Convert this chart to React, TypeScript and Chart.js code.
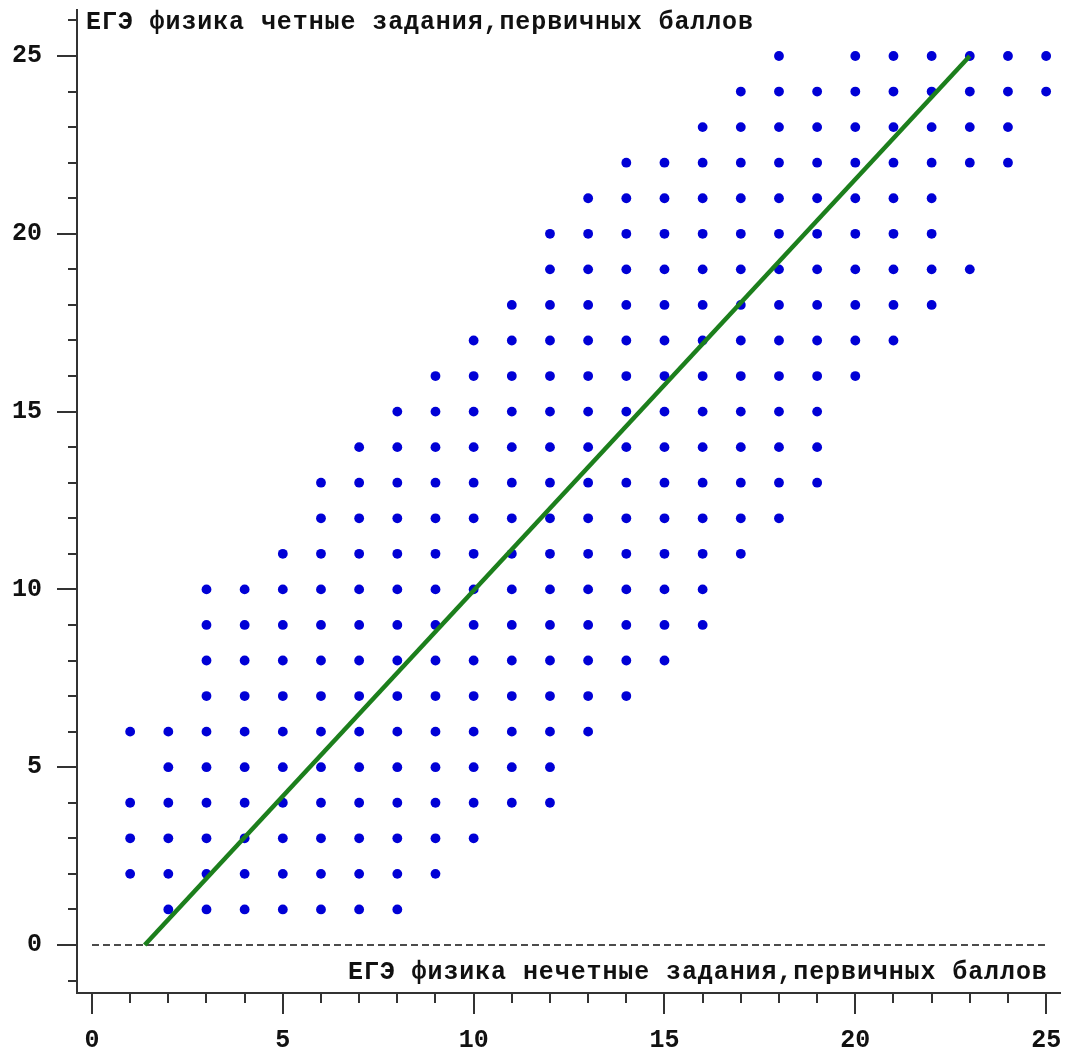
import { useEffect, useRef } from 'react';
import { Chart, registerables } from 'chart.js';

Chart.register(...registerables);

// y value of each row of points
const rowValues: number[] = [1, 2, 3, 4, 5, 6, 7, 8, 9, 10, 11, 12, 13, 14, 15, 16, 17, 18, 19, 20, 21, 22, 23, 24, 25];
// x values of the points present in each row
const rowXs: number[][] = [
  [2, 3, 4, 5, 6, 7, 8],
  [1, 2, 3, 4, 5, 6, 7, 8, 9],
  [1, 2, 3, 4, 5, 6, 7, 8, 9, 10],
  [1, 2, 3, 4, 5, 6, 7, 8, 9, 10, 11, 12],
  [2, 3, 4, 5, 6, 7, 8, 9, 10, 11, 12],
  [1, 2, 3, 4, 5, 6, 7, 8, 9, 10, 11, 12, 13],
  [3, 4, 5, 6, 7, 8, 9, 10, 11, 12, 13, 14],
  [3, 4, 5, 6, 7, 8, 9, 10, 11, 12, 13, 14, 15],
  [3, 4, 5, 6, 7, 8, 9, 10, 11, 12, 13, 14, 15, 16],
  [3, 4, 5, 6, 7, 8, 9, 10, 11, 12, 13, 14, 15, 16],
  [5, 6, 7, 8, 9, 10, 11, 12, 13, 14, 15, 16, 17],
  [6, 7, 8, 9, 10, 11, 12, 13, 14, 15, 16, 17, 18],
  [6, 7, 8, 9, 10, 11, 12, 13, 14, 15, 16, 17, 18, 19],
  [7, 8, 9, 10, 11, 12, 13, 14, 15, 16, 17, 18, 19],
  [8, 9, 10, 11, 12, 13, 14, 15, 16, 17, 18, 19],
  [9, 10, 11, 12, 13, 14, 15, 16, 17, 18, 19, 20],
  [10, 11, 12, 13, 14, 15, 16, 17, 18, 19, 20, 21],
  [11, 12, 13, 14, 15, 16, 17, 18, 19, 20, 21, 22],
  [12, 13, 14, 15, 16, 17, 18, 19, 20, 21, 22, 23],
  [12, 13, 14, 15, 16, 17, 18, 19, 20, 21, 22],
  [13, 14, 15, 16, 17, 18, 19, 20, 21, 22],
  [14, 15, 16, 17, 18, 19, 20, 21, 22, 23, 24],
  [16, 17, 18, 19, 20, 21, 22, 23, 24],
  [17, 18, 19, 20, 21, 22, 23, 24, 25],
  [18, 20, 21, 22, 23, 24, 25],
];

// fitted line end points
const fitX: number[] = [1.38, 23];
const fitY: number[] = [0, 25];

// dashed zero line
const zeroX: number[] = [0, 25];
const zeroY: number[] = [0, 0];

// tick values
const xTickValues: number[] = [0, 1, 2, 3, 4, 5, 6, 7, 8, 9, 10, 11, 12, 13, 14, 15, 16, 17, 18, 19, 20, 21, 22, 23, 24, 25];
const yTickValues: number[] = [-1, 0, 1, 2, 3, 4, 5, 6, 7, 8, 9, 10, 11, 12, 13, 14, 15, 16, 17, 18, 19, 20, 21, 22, 23, 24, 25, 26];
const labeledTicks: number[] = [0, 5, 10, 15, 20, 25];

const yTitle = 'ЕГЭ физика четные задания,первичных баллов';
const xTitle = 'ЕГЭ физика нечетные задания,первичных баллов';

const FONT = '"Liberation Mono", "DejaVu Sans Mono", monospace';
const AXIS_COLOR = '#333333';

const decorPlugin = {
  id: 'decor',
  afterDraw(chart: any) {
    const { ctx, chartArea, scales } = chart;
    const xs = scales.x;
    const ys = scales.y;
    ctx.save();
    ctx.strokeStyle = AXIS_COLOR;
    ctx.lineWidth = 2;
    ctx.beginPath();
    for (const v of xTickValues) {
      const px = Math.round(xs.getPixelForValue(v));
      const len = labeledTicks.includes(v) ? 21 : 10;
      ctx.moveTo(px, chartArea.bottom);
      ctx.lineTo(px, chartArea.bottom + len);
    }
    for (const v of yTickValues) {
      const py = Math.round(ys.getPixelForValue(v));
      const len = labeledTicks.includes(v) ? 20 : 9;
      ctx.moveTo(chartArea.left, py);
      ctx.lineTo(chartArea.left - len, py);
    }
    ctx.stroke();

    ctx.fillStyle = '#111111';
    ctx.font = `bold 25px ${FONT}`;
    try {
      (ctx as any).letterSpacing = '0.9px';
    } catch (e) {}
    ctx.textBaseline = 'middle';
    ctx.textAlign = 'left';
    ctx.fillText(yTitle, 86, 23);
    ctx.fillText(xTitle, 348, 973);
    try {
      (ctx as any).letterSpacing = '0px';
    } catch (e) {}
    ctx.restore();
  },
};

export default function App() {
  const canvasRef = useRef<HTMLCanvasElement | null>(null);

  useEffect(() => {
    const canvas = canvasRef.current;
    if (!canvas) return;

    const points = rowXs.flatMap((xsRow, i) => xsRow.map((x) => ({ x, y: rowValues[i] })));
    const fitPoints = fitX.map((x, i) => ({ x, y: fitY[i] }));
    const zeroPoints = zeroX.map((x, i) => ({ x, y: zeroY[i] }));

    const chart = new Chart(canvas, {
      type: 'scatter',
      data: {
        datasets: [
          {
            label: 'fit',
            type: 'line',
            data: fitPoints,
            borderColor: '#1c7f1c',
            borderWidth: 4.5,
            pointRadius: 0,
            showLine: true,
            tension: 0,
            order: 0,
          } as any,
          {
            label: 'points',
            data: points,
            backgroundColor: '#0000d6',
            borderWidth: 0,
            pointRadius: 4.9,
            order: 1,
          },
          {
            label: 'zero',
            type: 'line',
            data: zeroPoints,
            borderColor: '#111111',
            borderWidth: 1.6,
            borderDash: [7, 4],
            pointRadius: 0,
            showLine: true,
            order: 2,
          } as any,
        ],
      },
      options: {
        animation: false,
        responsive: false,
        devicePixelRatio: 1,
        layout: { padding: { top: 10, right: 4, left: 0, bottom: 0 } },
        plugins: {
          legend: { display: false },
          tooltip: { enabled: false },
          title: { display: false },
        },
        scales: {
          x: {
            type: 'linear',
            min: -0.3927,
            max: 25.366,
            afterFit: (scale: any) => {
              scale.height = 59;
              scale.paddingLeft = 0;
              scale.paddingRight = 0;
              scale.paddingTop = 0;
              scale.paddingBottom = 0;
            },
            grid: { display: false, drawTicks: false, drawOnChartArea: false },
            border: { display: true, color: AXIS_COLOR, width: 2 },
            ticks: {
              stepSize: 1,
              includeBounds: false,
              autoSkip: false,
              maxRotation: 0,
              padding: 33,
              color: '#111111',
              font: { family: FONT, size: 25, weight: 'bold' },
              callback: (v: any) => (labeledTicks.includes(Number(v)) ? String(v) : ''),
            },
          },
          y: {
            type: 'linear',
            min: -1.35,
            max: 26.2936,
            afterFit: (scale: any) => {
              scale.width = 77;
              scale.paddingLeft = 0;
              scale.paddingRight = 0;
              scale.paddingTop = 0;
              scale.paddingBottom = 0;
            },
            grid: { display: false, drawTicks: false, drawOnChartArea: false },
            border: { display: true, color: AXIS_COLOR, width: 2 },
            ticks: {
              stepSize: 1,
              includeBounds: false,
              autoSkip: false,
              padding: 35,
              color: '#111111',
              font: { family: FONT, size: 25, weight: 'bold' },
              callback: (v: any) => (labeledTicks.includes(Number(v)) ? String(v) : ''),
            },
          },
        },
      },
      plugins: [decorPlugin],
    });

    return () => {
      chart.destroy();
    };
  }, []);

  return (
    <div style={{ position: 'absolute', left: 0, top: 0, width: 1065, height: 1052, background: '#ffffff' }}>
      <canvas ref={canvasRef} width={1065} height={1052} style={{ display: 'block' }} />
    </div>
  );
}
